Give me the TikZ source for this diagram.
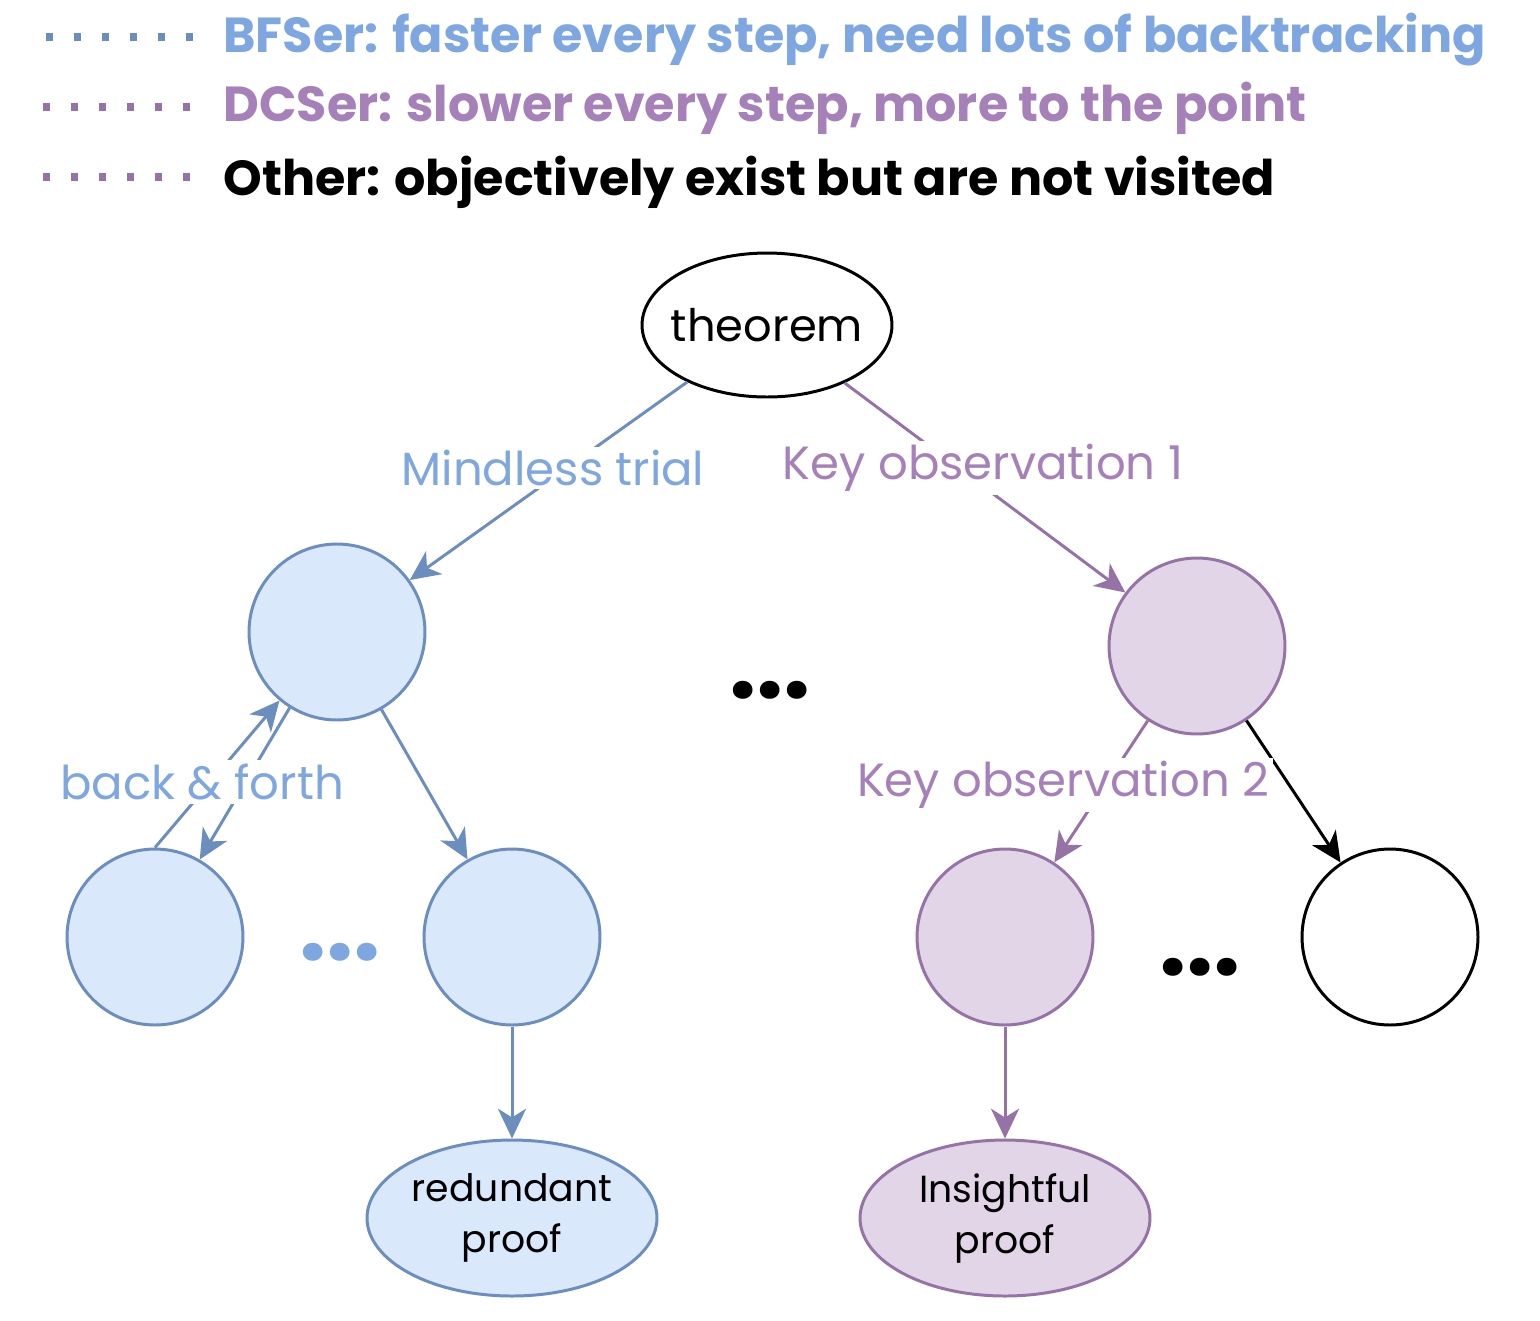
\documentclass[tikz,border=0pt]{standalone}
\usepackage{fontspec}
\setmainfont{Poppins}
\usetikzlibrary{arrows.meta,shapes.geometric}

\definecolor{bfsline}{HTML}{6C8EBF}
\definecolor{bfsfill}{HTML}{DAE8FC}
\definecolor{bfstext}{HTML}{7EA6E0}
\definecolor{dcsline}{HTML}{9673A6}
\definecolor{dcsfill}{HTML}{E1D5E7}
\definecolor{dcstext}{HTML}{A680B8}

\begin{document}
\begin{tikzpicture}[x=0.02cm, y=-0.02cm, line width=1.7pt,
    >={Stealth[length=17pt,width=16pt,inset=5pt]},
    state/.style={circle, draw, minimum size=3.52cm, inner sep=0pt},
    bfs/.style={draw=bfsline, fill=bfsfill},
    dcs/.style={draw=dcsline, fill=dcsfill},
    proof/.style={ellipse, draw, minimum width=5.8cm, minimum height=3.12cm,
        align=center, inner sep=0pt, font=\fontsize{21.5}{29}\selectfont},
    lbl/.style={fill=white, inner sep=2pt, font=\fontsize{26.5}{30}\selectfont},
    legend/.style={anchor=west, inner sep=0pt, font=\fontsize{28}{32}\selectfont\bfseries},
    dots/.style={inner sep=0pt, font=\fontsize{55}{55}\selectfont\bfseries},
    legdots/.style={line width=4pt, dash pattern=on 4pt off 11.9pt}]

    \useasboundingbox (0,0) rectangle (1540,1320);

    % Legenda
    \draw[legdots, bfsline] (46,37) -- (194,37);
    \draw[legdots, dcsline] (43,107) -- (191,107);
    \draw[legdots, dcsline] (43,177) -- (191,177);
    \node[legend, text=bfstext] (legbfs) at (222,40) {BFSer: faster every step, need lots of backtracking};
    \node[legend, text=dcstext] (legdcs) at (222,108) {DCSer: slower every step, more to the point};
    \node[legend] (legoth) at (222,182) {Other: objectively exist but are not visited};

    % Raiz
    \node[ellipse, draw, minimum width=5cm, minimum height=2.88cm, inner sep=0pt,
        font=\fontsize{25.5}{28}\selectfont] (thm) at (767,325) {\makebox[0pt]{theorem}};

    % Estados
    \node[state, bfs] (a) at (337,632) {};
    \node[state, dcs] (b) at (1197,646) {};
    \node[state, bfs] (c) at (155,937) {};
    \node[state, bfs] (d) at (512,937) {};
    \node[state, dcs] (e) at (1005,937) {};
    \node[state] (f) at (1390,937) {};

    % Provas
    \node[proof, bfs] (red) at (512,1218) {redundant\\proof};
    \node[proof, dcs] (ins) at (1005,1218) {Insightful\\proof};

    % Arestas
    \draw[->, bfsline] (thm) -- (a);
    \draw[->, dcsline] (thm) -- (b);
    \draw[->, bfsline] (c.90) -- (a.230);
    \draw[->, bfsline] (a.238) -- (c.60);
    \draw[->, bfsline] (a) -- (d);
    \draw[->, dcsline] (b) -- (e);
    \draw[->] (b) -- (f);
    \draw[->, bfsline] (d) -- (red);
    \draw[->, dcsline] (e) -- (ins);

    % Rotulos
    \node[lbl, text=bfstext] (lmind) at (553,468) {Mindless trial};
    \node[lbl, text=dcstext] (lkey1) at (983,468) {Key observation 1};
    \node[lbl, text=bfstext] (lback) at (202,782) {back \& forth};
    \node[lbl, text=dcstext] (lkey2) at (1063,785) {Key observation 2};

    % Reticencias
    \node[dots] (dmid) at (770,690) {...};
    \node[dots, text=bfstext] (dleft) at (340,952) {...};
    \node[dots] (dright) at (1200,967) {...};

\end{tikzpicture}
\end{document}
